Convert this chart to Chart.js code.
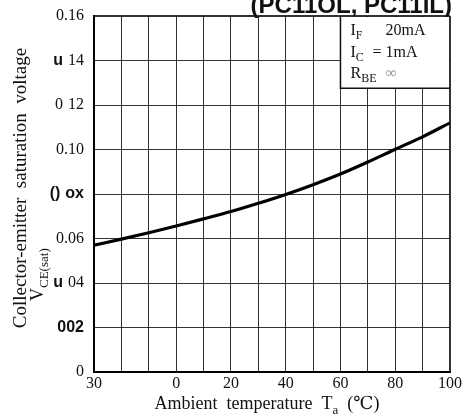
<!DOCTYPE html>
<html>
<head>
<meta charset="utf-8">
<script src="https://cdn.jsdelivr.net/npm/chart.js@4.4.0/dist/chart.umd.min.js"></script>
<style>
  body { margin: 0; background: #fff; }
  #wrap { width: 463px; height: 414px; }
</style>
</head>
<body>
<div id="wrap"><canvas id="chart" width="463" height="414"></canvas></div>
<script>
// collector-emitter saturation voltage against ambient temperature
const temps  = [-30, -20, -10, 0, 10, 20, 30, 40, 50, 60, 70, 80, 90, 100];
const vceSat = [0.057, 0.0597, 0.0626, 0.0656, 0.0688, 0.0721, 0.0758, 0.0798, 0.0842, 0.089, 0.0944, 0.1001, 0.1057, 0.112];

const xTickValues = [-30, 0, 20, 40, 60, 80, 100];
const xTickLabels = ['30', '0', '20', '40', '60', '80', '100'];
const yTickValues = [0, 0.02, 0.04, 0.06, 0.08, 0.10, 0.12, 0.14, 0.16];
const yTickLabels = ['0', '002', 'u 04', '0.06', '() ox', '0.10', '0 12', 'u 14', '0.16'];

// test conditions box
const condSymbols = ['I', 'I', 'R'];
const condSubs    = ['F', 'C', 'BE'];
const condSigns   = ['', '=', ''];
const condValues  = ['20mA', '1mA', '\u221e'];

const SERIF = '"Liberation Serif", "DejaVu Serif", serif';
const SANS  = '"Liberation Sans", Arial, sans-serif';
const sansTokens = ['u', '()', 'ox', '002'];

function drawTickLabel(ctx, text, right, y) {
  const parts = text.split(' ');
  let x = right;
  for (let i = parts.length - 1; i >= 0; i--) {
    const sans = sansTokens.includes(parts[i]);
    ctx.font = sans ? 'bold 16px ' + SANS : '16px ' + SERIF;
    ctx.fillText(parts[i], x, y);
    x -= ctx.measureText(parts[i]).width + 5;
  }
}

// text with a subscript, drawn from (x, y) along the current baseline
function drawSub(ctx, main, sub, rest, x, y, size) {
  ctx.textAlign = 'left';
  ctx.font = size + 'px ' + SERIF;
  ctx.fillText(main, x, y);
  x += ctx.measureText(main).width;
  ctx.font = Math.round(size * 0.72) + 'px ' + SERIF;
  ctx.fillText(sub, x, y + size * 0.25);
  x += ctx.measureText(sub).width;
  if (rest) {
    ctx.font = size + 'px ' + SERIF;
    ctx.fillText(rest, x, y);
  }
}

const decor = {
  id: 'decor',
  afterDraw(chart) {
    const ctx = chart.ctx;
    const area = chart.chartArea;
    const xs = chart.scales.x, ys = chart.scales.y;
    ctx.save();
    ctx.fillStyle = '#111';

    // part numbers across the top
    ctx.font = 'bold 24px ' + SANS;
    ctx.textAlign = 'right';
    ctx.textBaseline = 'alphabetic';
    ctx.fillText('(PC11OL, PC11IL)', 452, 13);

    // y tick labels
    ctx.textAlign = 'right';
    ctx.textBaseline = 'middle';
    yTickValues.forEach((v, i) => {
      drawTickLabel(ctx, yTickLabels[i], area.left - 10, ys.getPixelForValue(v));
    });

    // y axis title, two lines
    ctx.save();
    ctx.translate(21, 188);
    ctx.rotate(-Math.PI / 2);
    ctx.textAlign = 'center';
    ctx.textBaseline = 'middle';
    ctx.font = '19px ' + SERIF;
    ctx.fillText('Collector-emitter  saturation  voltage', 0, 0);
    ctx.restore();

    ctx.save();
    ctx.translate(43, 301);
    ctx.rotate(-Math.PI / 2);
    ctx.textBaseline = 'alphabetic';
    drawSub(ctx, 'V', 'CE(sat)', '', 0, 0, 18);
    ctx.restore();

    // x axis title
    ctx.textBaseline = 'alphabetic';
    ctx.font = '18px ' + SERIF;
    const t1 = 'Ambient  temperature  T', t3 = '  (\u2103)';
    const w1 = ctx.measureText(t1).width, w3 = ctx.measureText(t3).width;
    ctx.font = '13px ' + SERIF;
    const w2 = ctx.measureText('a').width;
    drawSub(ctx, t1, 'a', t3, 267 - (w1 + w2 + w3) / 2, 409, 18);

    // conditions box in the upper right corner
    const bx = xs.getPixelForValue(60), by = ys.getPixelForValue(0.1275);
    ctx.fillStyle = '#fff';
    ctx.fillRect(bx, area.top + 1, area.right - bx - 1, by - area.top - 1);
    ctx.strokeStyle = '#111';
    ctx.lineWidth = 1.5;
    ctx.beginPath();
    ctx.moveTo(bx, area.top);
    ctx.lineTo(bx, by);
    ctx.lineTo(area.right, by);
    ctx.stroke();

    condSymbols.forEach((s, i) => {
      const y = area.top + 19 + i * 21.5;
      ctx.fillStyle = '#111';
      drawSub(ctx, s, condSubs[i], '', bx + 10, y, 16);
      ctx.font = '16px ' + SERIF;
      ctx.textAlign = 'left';
      if (condSigns[i]) ctx.fillText(condSigns[i], bx + 32, y);
      ctx.fillStyle = i === 2 ? '#999' : '#111';
      ctx.fillText(condValues[i], bx + 45, y);
    });
    ctx.restore();
  }
};

new Chart(document.getElementById('chart'), {
  type: 'line',
  data: {
    datasets: [{
      data: temps.map((t, i) => ({ x: t, y: vceSat[i] })),
      borderColor: '#000',
      borderWidth: 3.2,
      pointRadius: 0,
      cubicInterpolationMode: 'monotone',
      fill: false
    }]
  },
  options: {
    responsive: false,
    animation: false,
    layout: { padding: { top: 16, right: 13, left: 0, bottom: 0 } },
    plugins: { legend: { display: false }, tooltip: { enabled: false } },
    scales: {
      x: {
        type: 'linear',
        min: -30,
        max: 100,
        afterFit: s => { s.height = 42; s.paddingLeft = 0; s.paddingRight = 0; },
        ticks: {
          stepSize: 10,
          autoSkip: false,
          maxRotation: 0,
          padding: 2,
          color: '#111',
          font: { family: SERIF, size: 16 },
          callback: v => {
            const i = xTickValues.indexOf(Math.round(v));
            return i >= 0 ? xTickLabels[i] : '';
          }
        },
        grid: {
          drawTicks: false,
          color: 'rgba(0,0,0,0.8)',
          lineWidth: c => (c.tick && c.tick.value === 100 ? 2 : 1)
        },
        border: { color: '#000', width: 2 }
      },
      y: {
        min: 0,
        max: 0.16,
        afterFit: s => { s.width = 94; s.paddingTop = 0; s.paddingBottom = 0; },
        ticks: { stepSize: 0.02, display: false },
        grid: {
          drawTicks: false,
          color: 'rgba(0,0,0,0.8)',
          lineWidth: c => (c.tick && Math.abs(c.tick.value - 0.16) < 1e-6 ? 2 : 1)
        },
        border: { color: '#000', width: 2 }
      }
    }
  },
  plugins: [decor]
});
</script>
</body>
</html>
